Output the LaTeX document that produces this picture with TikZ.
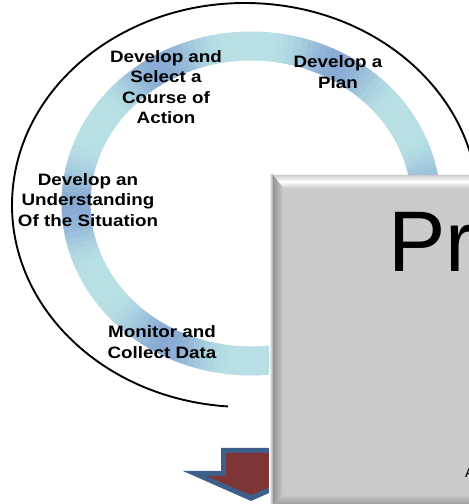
\documentclass[tikz,border=0pt]{standalone}
\usepackage{fontspec}
\setmainfont{Liberation Sans}
\usetikzlibrary{calc}
\definecolor{ringlight}{HTML}{B8E0E4}
\definecolor{ringdark}{HTML}{88AAD4}
\definecolor{boxgray}{HTML}{CBCBCB}
\definecolor{arrowblue}{HTML}{3D5F8C}
\definecolor{arrowred}{HTML}{7D3535}
\begin{document}
\begin{tikzpicture}[x=1pt,y=1pt,
  lbl/.style={font=\fontsize{16.5}{20.5}\selectfont\bfseries, align=center, inner sep=0pt, xscale=1.14},
  bigbox/.style={rectangle, fill=boxgray, minimum width=210pt, minimum height=329pt, inner sep=0pt, outer sep=0pt, anchor=north west},
  bigtext/.style={font=\fontsize{86}{86}\selectfont, inner sep=0pt, anchor=base west},
  smalltext/.style={font=\fontsize{14}{14}\selectfont, inner sep=0pt, anchor=base west}]
\useasboundingbox (0,0) rectangle (469,504);
% outer loop arc
\coordinate (oc) at (245,299);
\draw[line width=1.9pt] (oc) ++(265.8:233pt and 202pt) arc[start angle=265.8, end angle=-80, x radius=233pt, y radius=202pt];
% ring
\coordinate (rc) at (251,300.5);
\foreach \a in {0,2,...,358} {
  \pgfmathsetmacro\f{100*((1+cos(6*\a))/2)^2}
  \draw[line width=29pt, color=ringdark!\f!ringlight] (rc) ++(\a:175pt and 157.5pt) arc[start angle=\a, end angle=\a+2.6, x radius=175pt, y radius=157.5pt];
}
% labels
\node[lbl] (n1) at (166,417) {Develop and\\Select a\\Course of\\Action};
\node[lbl] (n2) at (338,432) {Develop a\\Plan};
\node[lbl] (n3) at (88,304) {Develop an\\Understanding\\Of the Situation};
\node[lbl] (n4) at (162,162) {Monitor and\\Collect Data};
\node[lbl, anchor=base west] (n5) at (270,187) {E};
% down arrow
\fill[arrowblue] (221,56) -- (221,33) -- (183,33) -- (251,3) -- (319,33) -- (281,33) -- (281,56) -- cycle;
\fill[arrowred] (226,51) -- (226,28) -- (206,28) -- (251,9) -- (296,28) -- (276,28) -- (276,51) -- cycle;
% box
\fill[left color=white, right color=black!35] (269,0) rectangle (273,329);
\node[bigbox] (box) at (273,329) {};
\shade[top color=black!20, bottom color=boxgray, middle color=white] (box.north west) -- (box.north east) -- ([xshift=-10pt,yshift=-13pt]box.north east) -- ([xshift=10pt,yshift=-13pt]box.north west) -- cycle;
\shade[left color=black!42, right color=boxgray] (box.north west) -- ([xshift=10pt,yshift=-13pt]box.north west) -- ([xshift=10pt,yshift=10pt]box.south west) -- (box.south west) -- cycle;
\shade[top color=boxgray, bottom color=black!38] (box.south west) -- ([xshift=10pt,yshift=10pt]box.south west) -- ([xshift=-10pt,yshift=10pt]box.south east) -- (box.south east) -- cycle;
\node[bigtext] (pr) at (388,232) {Pr};
\node[smalltext] (a) at (465,27) {A};
\end{tikzpicture}
\end{document}
